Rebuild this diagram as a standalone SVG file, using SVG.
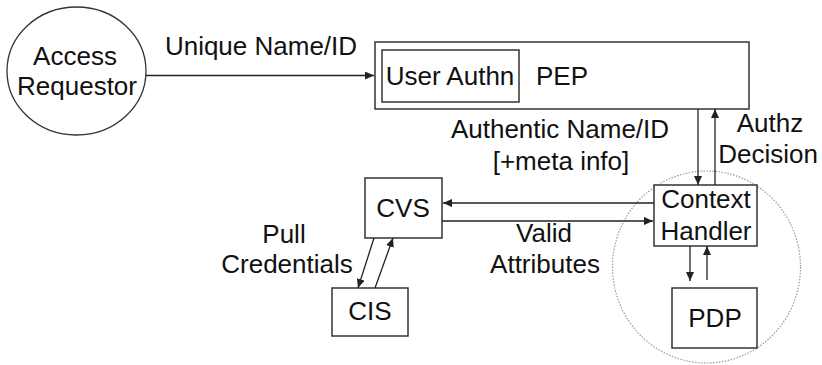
<svg xmlns="http://www.w3.org/2000/svg" width="822" height="365" viewBox="0 0 822 365">
<style>
.bg{fill:#fff}
.box{fill:#fff;stroke:#333;stroke-width:1.5}
.ell{fill:#fff;stroke:#333;stroke-width:1.3}
.dot{fill:none;stroke:#999;stroke-width:1.2;stroke-dasharray:1.5 1.5}
.t{font-family:"Liberation Sans",Arial,sans-serif;font-size:26px;fill:#111;text-anchor:middle}
.c{stroke:#222;stroke-width:1.3;fill:none;marker-end:url(#ah)}
</style>
<defs>
<marker id="ah" markerUnits="userSpaceOnUse" markerWidth="10" markerHeight="8" refX="9" refY="4" orient="auto">
<path d="M0,0 L9,4 L0,8 Z" fill="#222"/>
</marker>
</defs>
<rect class="bg" x="0" y="0" width="822" height="365"/>
<ellipse id="policy-zone" class="dot" cx="706.5" cy="267" rx="94" ry="96"/>
<g id="access-requestor">
<ellipse class="ell" cx="76.5" cy="71" rx="69.5" ry="64"/>
<text class="t" x="75" y="65">Access</text>
<text class="t" x="77" y="95">Requestor</text>
</g>
<g id="pep">
<rect class="box" x="375" y="42" width="374" height="67"/>
<text class="t" x="562" y="85">PEP</text>
</g>
<g id="user-authn">
<rect class="box" x="382" y="50" width="137" height="52"/>
<text class="t" x="450" y="85">User Authn</text>
</g>
<g id="context-handler">
<rect class="box" x="654" y="185" width="103" height="61"/>
<text class="t" x="706" y="208">Context</text>
<text class="t" x="706" y="240">Handler</text>
</g>
<g id="pdp">
<rect class="box" x="672" y="288" width="85" height="60"/>
<text class="t" x="715" y="327">PDP</text>
</g>
<g id="cvs">
<rect class="box" x="365" y="178" width="77" height="60"/>
<text class="t" x="403" y="217">CVS</text>
</g>
<g id="cis">
<rect class="box" x="332" y="288" width="76" height="48"/>
<text class="t" x="370" y="320">CIS</text>
</g>
<g id="connectors">
<line class="c" x1="146" y1="75.5" x2="374" y2="75.5"/>
<line class="c" x1="698" y1="109" x2="698" y2="185"/>
<line class="c" x1="715" y1="185" x2="715" y2="109"/>
<line class="c" x1="654" y1="203" x2="443" y2="203"/>
<line class="c" x1="442" y1="221" x2="653" y2="221"/>
<line class="c" x1="690" y1="246" x2="690" y2="281"/>
<line class="c" x1="707" y1="280" x2="707" y2="246"/>
<line class="c" x1="374" y1="238" x2="358" y2="288"/>
<line class="c" x1="375" y1="288" x2="393" y2="238"/>
</g>
<g id="labels">
<text class="t" x="261" y="55">Unique Name/ID</text>
<text class="t" x="560" y="138">Authentic Name/ID</text>
<text class="t" x="561" y="170">[+meta info]</text>
<text class="t" x="770" y="132">Authz</text>
<text class="t" x="768" y="163">Decision</text>
<text class="t" x="544" y="242">Valid</text>
<text class="t" x="545" y="273">Attributes</text>
<text class="t" x="284" y="243">Pull</text>
<text class="t" x="287" y="273">Credentials</text>
</g>
</svg>
